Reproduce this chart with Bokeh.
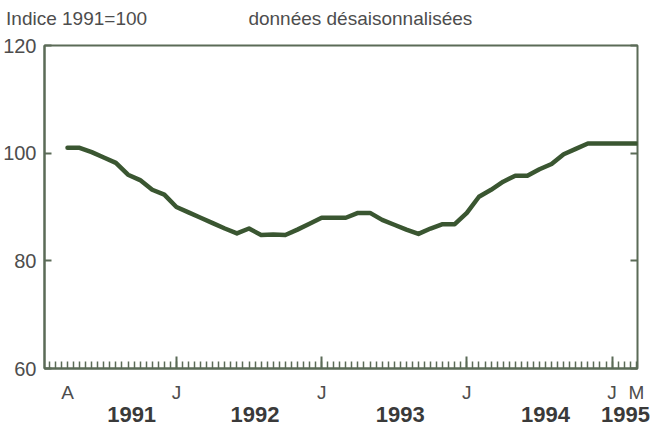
from bokeh.plotting import figure
from bokeh.models import FixedTicker, LinearAxis, Range1d
from bokeh.embed import file_html
from bokeh.resources import INLINE

# month index: 0 = April 1991 ... 47 = March 1995
months = list(range(48))
index_values = [101, 101, 100.2, 99.2, 98.2, 96, 95, 93.2, 92.3, 90,
                89, 88, 87, 86, 85.1, 86, 84.8, 84.9, 84.8, 85.8,
                86.9, 88, 88, 88, 88.9, 88.9, 87.6, 86.7, 85.8, 85,
                86, 86.8, 86.8, 88.9, 91.9, 93.2, 94.7, 95.8, 95.8, 97,
                98, 99.8, 100.8, 101.8, 101.8, 101.8, 101.8, 101.8]

y_ticks = [60, 80, 100, 120]
january_ticks = [9, 21, 33, 45]
half_month_ticks = [i / 2 for i in range(-3, 95)]
month_label_pos = [0, 9, 21, 33, 45, 47]
month_labels = ["A", "J", "J", "J", "J", "M"]
year_label_pos = [5.3, 15.5, 27.5, 39.5, 46.1]
year_labels = ["1991", "1992", "1993", "1994", "1995"]
title_pos = [0.75, 24.2]
title_texts = ["Indice 1991=100", "données désaisonnalisées"]

FONT = "Liberation Sans"
FRAME = "#5b6b57"
TEXT = "#4d4d4d"

p = figure(width=650, height=428, x_range=Range1d(-1.9, 47.1), y_range=Range1d(60, 120),
           output_backend="svg", toolbar_location=None,
           min_border_left=44, min_border_right=13, min_border_top=45, min_border_bottom=60)
p.background_fill_color = "white"
p.border_fill_color = "white"
p.outline_line_color = FRAME
p.outline_line_width = 2
p.xgrid.visible = False
p.ygrid.visible = False

p.line(months, index_values, line_color="#3a5631", line_width=4.5, line_join="round", line_cap="round")

# y axis
ya = p.yaxis[0]
ya.ticker = FixedTicker(ticks=y_ticks)
ya.axis_line_color = FRAME
ya.axis_line_width = 2
ya.major_tick_line_color = FRAME
ya.major_tick_line_width = 2
ya.major_tick_in = 7
ya.major_tick_out = 0
ya.minor_tick_line_color = None
ya.major_label_standoff = 8
ya.major_label_text_font = FONT
ya.major_label_text_font_size = "20px"
ya.major_label_text_color = TEXT

# right side: inward ticks only
ry = LinearAxis(ticker=FixedTicker(ticks=y_ticks), axis_line_color=None,
                major_tick_line_color=FRAME, major_tick_line_width=2,
                major_tick_in=7, major_tick_out=0, minor_tick_line_color=None,
                major_label_text_font_size="1px", major_label_text_color=None,
                major_label_standoff=0)
p.add_layout(ry, "right")

# x axis: ticks only
xa = p.xaxis[0]
xa.ticker = FixedTicker(ticks=january_ticks, minor_ticks=half_month_ticks)
xa.axis_line_color = FRAME
xa.axis_line_width = 2
xa.major_tick_line_color = FRAME
xa.major_tick_line_width = 2
xa.major_tick_in = 12
xa.major_tick_out = 0
xa.minor_tick_line_color = FRAME
xa.minor_tick_line_width = 1.5
xa.minor_tick_in = 7
xa.minor_tick_out = 0
xa.major_label_text_font_size = "1px"
xa.major_label_text_color = None
xa.major_label_standoff = 0

# month letters
ma = LinearAxis(ticker=FixedTicker(ticks=month_label_pos),
                major_label_overrides=dict(zip(month_label_pos, month_labels)),
                axis_line_color=None, major_tick_line_color=None, minor_tick_line_color=None,
                major_tick_in=0, major_tick_out=0,
                major_label_standoff=13, major_label_text_font=FONT,
                major_label_text_font_size="19px", major_label_text_color=TEXT)
p.add_layout(ma, "below")

# year labels
yl = LinearAxis(ticker=FixedTicker(ticks=year_label_pos),
                major_label_overrides=dict(zip(year_label_pos, year_labels)),
                axis_line_color=None, major_tick_line_color=None, minor_tick_line_color=None,
                major_tick_in=0, major_tick_out=0,
                major_label_standoff=1, major_label_text_font=FONT,
                major_label_text_font_size="22px", major_label_text_font_style="bold",
                major_label_text_color="#3a3a3a")
p.add_layout(yl, "below")

# header texts
ta = LinearAxis(ticker=FixedTicker(ticks=title_pos),
                major_label_overrides=dict(zip(title_pos, title_texts)),
                axis_line_color=None, major_tick_line_color=None, minor_tick_line_color=None,
                major_tick_in=0, major_tick_out=0,
                major_label_standoff=17, major_label_text_font=FONT,
                major_label_text_font_size="19px", major_label_text_color=TEXT)
p.add_layout(ta, "above")

open("out.html", "w").write(file_html(p, INLINE))
